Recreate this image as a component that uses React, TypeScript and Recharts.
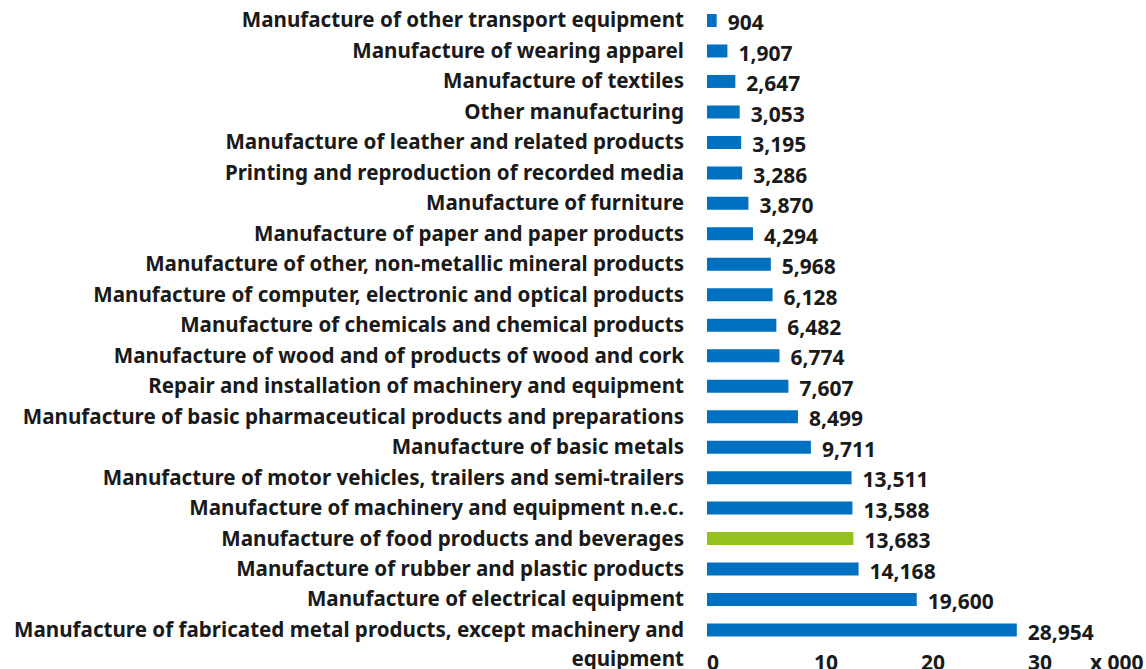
import { BarChart, Bar, XAxis, YAxis, Cell, LabelList } from "recharts";

const categories = [
  "Manufacture of other transport equipment",
  "Manufacture of wearing apparel",
  "Manufacture of textiles",
  "Other manufacturing",
  "Manufacture of leather and related products",
  "Printing and reproduction of recorded media",
  "Manufacture of furniture",
  "Manufacture of paper and paper products",
  "Manufacture of other, non-metallic mineral products",
  "Manufacture of computer, electronic and optical products",
  "Manufacture of chemicals and chemical products",
  "Manufacture of wood and of products of wood and cork",
  "Repair and installation of machinery and equipment",
  "Manufacture of basic pharmaceutical products and preparations",
  "Manufacture of basic metals",
  "Manufacture of motor vehicles, trailers and semi-trailers",
  "Manufacture of machinery and equipment n.e.c.",
  "Manufacture of food products and beverages",
  "Manufacture of rubber and plastic products",
  "Manufacture of electrical equipment",
  "Manufacture of fabricated metal products, except machinery and equipment",
];

const values = [
  904, 1907, 2647, 3053, 3195, 3286, 3870, 4294, 5968, 6128, 6482, 6774, 7607,
  8499, 9711, 13511, 13588, 13683, 14168, 19600, 28954,
];

const highlighted = "Manufacture of food products and beverages";
const xTicks = [0, 10000, 20000, 30000, 40000];

const BLUE = "#0070c0";
const GREEN = "#95c11f";
const TEXT = "#1a1a1a";
const FONT = "'Noto Sans', sans-serif";

const data = categories.map((name, i) => ({ name, value: values[i] }));

// break long labels at the last space before the limit
const wrap = (s: string, limit = 62) => {
  if (s.length <= limit) return [s];
  const cut = s.lastIndexOf(" ", limit);
  return [s.slice(0, cut), s.slice(cut + 1)];
};

const CategoryTick = ({ x, y, payload }: any) => {
  const lines = wrap(payload.value);
  return (
    <text x={x} y={y} textAnchor="end" fill={TEXT} fontSize={20.6} fontWeight={700} fontFamily={FONT}>
      {lines.map((l, i) => (
        <tspan key={i} x={x} dy={i === 0 ? "0.35em" : 29}>{l}</tspan>
      ))}
    </text>
  );
};

const ValueTick = ({ x, y, payload }: any) => {
  const last = payload.value === 40000;
  return (
    <text x={last ? x - 45 : x} y={y + 17} textAnchor="start" fill={TEXT} fontSize={21} fontWeight={700} fontFamily={FONT}>
      {last ? "x 000" : payload.value / 1000}
    </text>
  );
};

const ValueLabel = (p: any) => (
  <text
    x={Number(p.x) + Number(p.width) + 11}
    y={Number(p.y) + Number(p.height) / 2 + 4}
    dominantBaseline="middle"
    fill={TEXT}
    fontSize={21}
    fontWeight={700}
    fontFamily={FONT}
  >
    {Number(p.value).toLocaleString("en-US")}
  </text>
);

export default function App() {
  return (
    <div style={{ position: "absolute", left: 0, top: 0, background: "#fff" }}>
      <BarChart
        width={1146}
        height={690}
        data={data}
        layout="vertical"
        margin={{ top: 5, right: 11, bottom: 15, left: 0 }}
      >
        <XAxis
          type="number"
          domain={[0, 40000]}
          ticks={xTicks}
          height={30}
          axisLine={false}
          tickLine={false}
          tickSize={0}
          tickMargin={8}
          tick={<ValueTick />}
          interval={0}
        />
        <YAxis
          type="category"
          dataKey="name"
          width={707}
          axisLine={false}
          tickLine={false}
          tickSize={0}
          tickMargin={23}
          tick={<CategoryTick />}
          interval={0}
        />
        <Bar dataKey="value" barSize={13} isAnimationActive={false}>
          {data.map((d) => (
            <Cell key={d.name} fill={d.name === highlighted ? GREEN : BLUE} />
          ))}
          <LabelList dataKey="value" content={<ValueLabel />} />
        </Bar>
      </BarChart>
    </div>
  );
}
